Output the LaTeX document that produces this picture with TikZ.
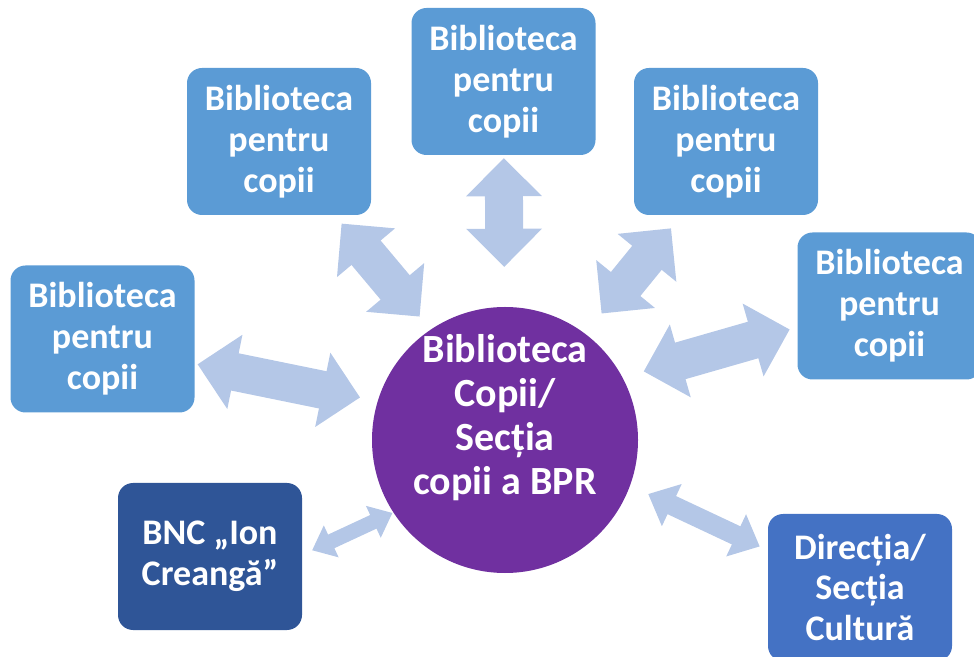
\documentclass[tikz,border=0pt]{standalone}
\usepackage{fontspec}
\setmainfont{Carlito}
\usepackage{tikz}
\usetikzlibrary{arrows.meta}

\definecolor{boxblue}{HTML}{5B9BD5}
\definecolor{darkblue}{HTML}{2F5597}
\definecolor{midblue}{HTML}{4472C4}
\definecolor{hubpurple}{HTML}{7030A0}
\definecolor{arrowblue}{HTML}{B4C7E7}

\begin{document}
\begin{tikzpicture}[x=1pt, y=1pt,
    box/.style={rectangle, rounded corners=15pt, fill=boxblue, text=white,
      minimum width=184pt, minimum height=147pt, inner sep=0pt, align=center,
      font=\fontsize{36}{41}\selectfont\bfseries},
    hub/.style={circle, fill=hubpurple, minimum size=266pt, inner sep=0pt},
    hubtext/.style={text=white, inner sep=0pt, align=center,
      font=\fontsize{40}{44}\selectfont\bfseries},
    wide/.style={line width=38pt,
      {Triangle[length=38pt,width=75pt,line width=4pt]}-{Triangle[length=38pt,width=75pt,line width=4pt]}},
    slim/.style={line width=#1,
      {Triangle[length=#1+6pt,width=2.3*#1,line width=3pt]}-{Triangle[length=#1+6pt,width=2.3*#1,line width=3pt]}}]
    \useasboundingbox (0,0) rectangle (974,656);
    \clip (0,0) rectangle (974,656);

    \node[hub] (c) at (505,216) {};
    \node[hubtext, yshift=22pt] (ctxt) at (c) {Biblioteca\\Copii/\\Secția\\copii a BPR};
    \node[box] (top) at (503.5,574.5) {Biblioteca\\pentru\\copii};
    \node[box] (tl) at (279,514.5) {Biblioteca\\pentru\\copii};
    \node[box] (tr) at (726,514.5) {Biblioteca\\pentru\\copii};
    \node[box] (l) at (102.5,317) {Biblioteca\\pentru\\copii};
    \node[box] (r) at (889.5,350) {Biblioteca\\pentru\\copii};
    \node[box, fill=darkblue] (bnc) at (210,99.5) {BNC „Ion\\Creangă”};
    \node[box, fill=midblue] (dir) at (860,68.5) {Direcția/\\Secția\\Cultură};

    \path[draw=arrowblue, fill=arrowblue]
    (top) edge[wide, shorten <=3pt, shorten >=40pt] (c)
    (tl.-53) edge[wide, shorten <=11pt, shorten >=17pt] (c.124)
    (tr.-121) edge[wide, shorten <=17pt, shorten >=26pt] (c.53)
    (l.-15) edge[wide, shorten <=3pt, shorten >=18pt] (c.163)
    (r.-167) edge[wide, shorten <=8pt, shorten >=22pt] (c.28)
    (bnc.1) edge[slim=15pt, shorten <=11pt, shorten >=1pt] (c.213)
    (c.-20) edge[slim=20pt, shorten <=20pt, shorten >=9pt] (dir.158)
    ;

\end{tikzpicture}
\end{document}
